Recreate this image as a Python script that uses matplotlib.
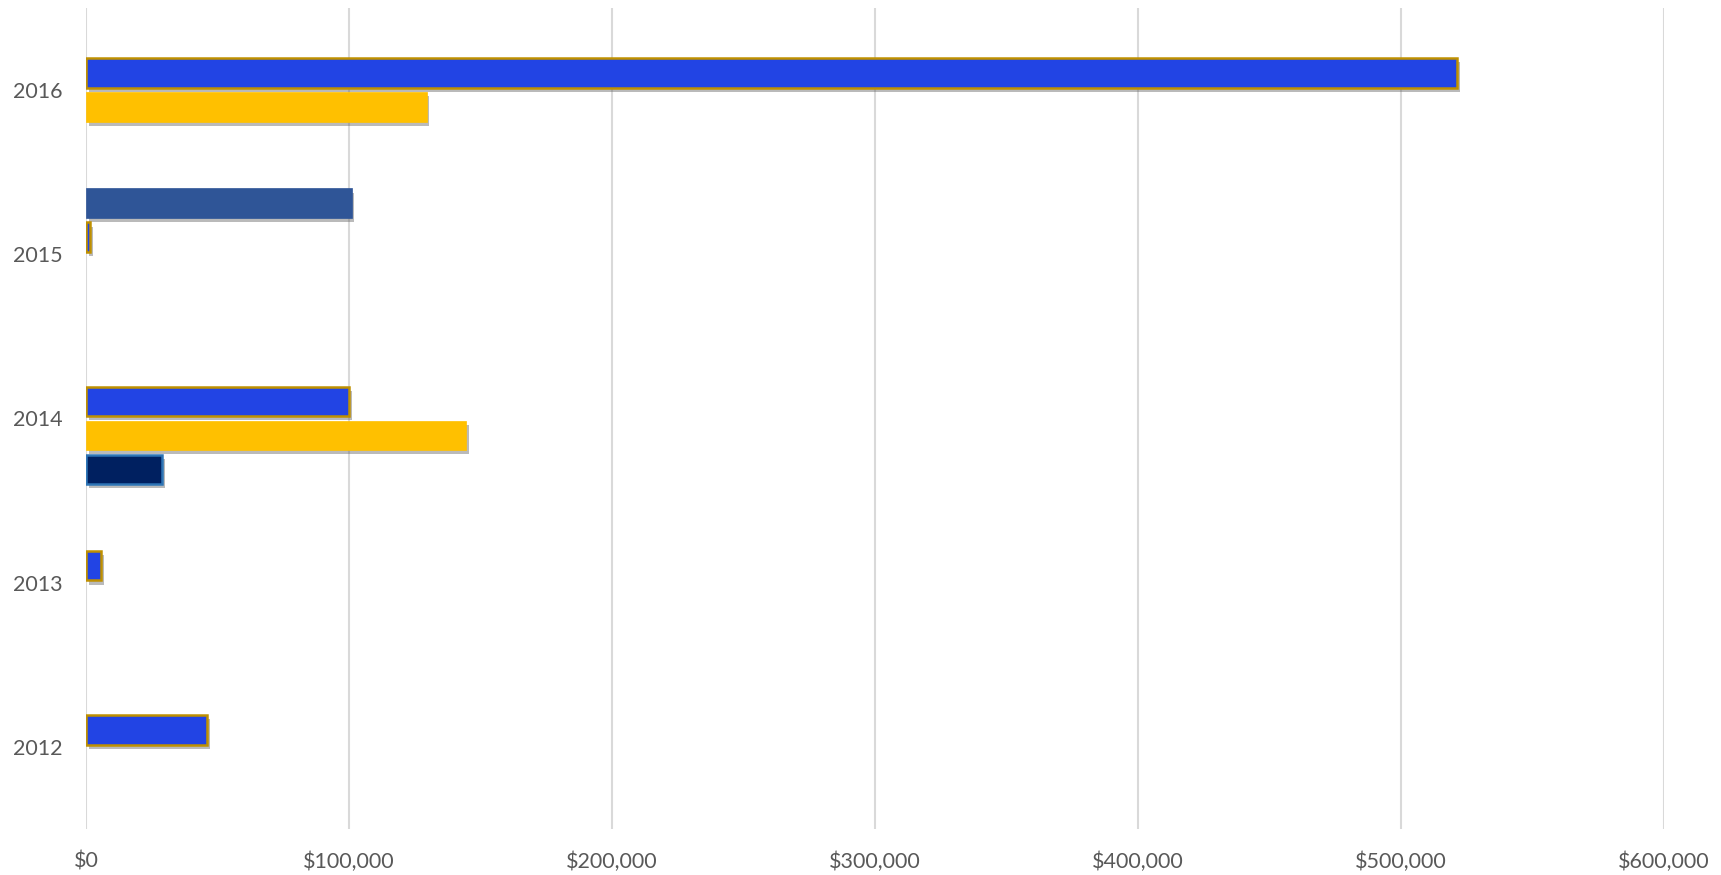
import matplotlib
matplotlib.use("Agg")
import matplotlib.pyplot as plt
import matplotlib.patheffects as pe
from matplotlib.ticker import FuncFormatter
import numpy as np

years = ["2012", "2013", "2014", "2015", "2016"]
# four series, listed top slot to bottom slot within each year group
series_a = [0, 0, 0, 101000, 0]            # slate blue
series_b = [46000, 5700, 100000, 1500, 521300]  # bright blue, gold edge
series_c = [0, 0, 144500, 0, 129500]        # yellow
series_d = [0, 0, 28800, 0, 0]              # navy
x_ticks = [0, 100000, 200000, 300000, 400000, 500000, 600000]

plt.rcParams['font.family'] = ['Lato', 'DejaVu Sans']

fig = plt.figure(figsize=(17.21, 8.75), dpi=100)
ax = fig.add_axes([0.0500, 0.0526, 0.9169, 0.9383])

y = np.arange(len(years))
slot = 0.2073
h = 0.18
shadow = [pe.SimplePatchShadow(offset=(2, -3), shadow_rgbFace='#666666', alpha=0.45), pe.Normal()]

specs = [
    (series_a, 1.5, '#2F5597', '#2F5597', 0.5),
    (series_b, 0.5, '#2244E4', '#BF9000', 1.8),
    (series_c, -0.5, '#FFC000', '#FFC000', 0.5),
    (series_d, -1.5, '#002060', '#2E75B6', 1.8),
]
for vals, off, fc, ec, lw in specs:
    v = np.array(vals, dtype=float)
    mask = v > 0
    bars = ax.barh(y[mask] + off * slot, v[mask], height=h, color=fc,
                   edgecolor=ec, linewidth=lw, zorder=3)
    for b in bars:
        b.set_path_effects(shadow)

ax.set_ylim(-0.5, 4.5)
ax.set_xlim(0, 600000)
ax.set_yticks(y)
ax.set_yticklabels(years)
ax.set_xticks(x_ticks)
ax.xaxis.set_major_formatter(FuncFormatter(lambda v, p: "${:,.0f}".format(v)))
ax.grid(axis='x', color='#D9D9D9', linewidth=1.5, zorder=0)
ax.set_axisbelow(True)
for s in ax.spines.values():
    s.set_visible(False)
ax.tick_params(axis='both', length=0, colors='#595959', labelsize=15.5)
ax.tick_params(axis='y', pad=17)
ax.tick_params(axis='x', pad=16)

fig.savefig("out.png", dpi=100, facecolor='white')
